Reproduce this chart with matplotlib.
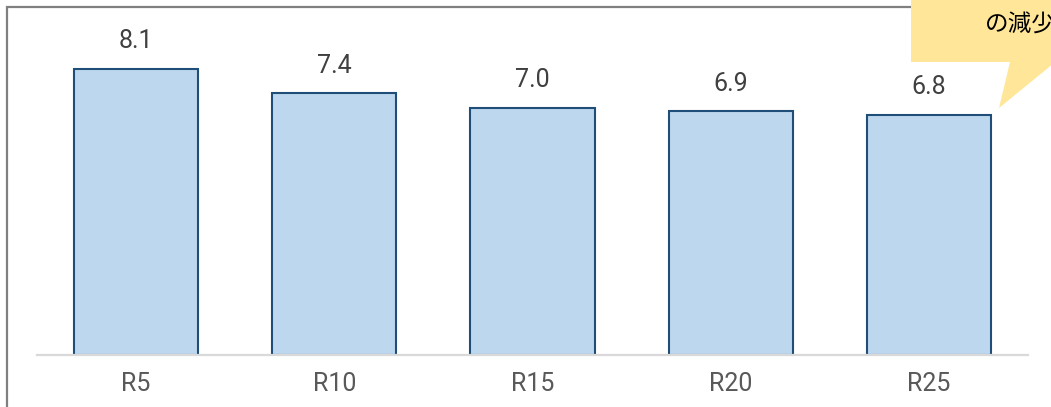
import matplotlib
matplotlib.use('Agg')
from matplotlib import pyplot as plt
from matplotlib.patches import Polygon, Rectangle

# データ
categories = ['R5', 'R10', 'R15', 'R20', 'R25']
values = [8.1, 7.4, 7.0, 6.9, 6.8]
value_labels = ['8.1', '7.4', '7.0', '6.9', '6.8']
callout_text = 'の減少'

W, H = 1051, 407
fig = plt.figure(figsize=(W / 100, H / 100), dpi=100)

label_font = ['Roboto', 'DejaVu Sans']

# 外枠 (左と上の線だけ見える)
fig.patches.append(Rectangle((7 / W, -0.1), 1.2, 1 - 7 / H + 0.1,
                             transform=fig.transFigure, fill=False,
                             edgecolor='#808080', linewidth=1.6))

ax = fig.add_axes([37 / W, (H - 355) / H, (1028 - 37) / W, (355 - 20) / H])
ax.bar(range(len(categories)), values, width=0.626, color='#BDD7EE',
       edgecolor='#1F4E79', linewidth=1.5, zorder=2)
ax.set_xlim(-0.5, len(categories) - 0.5)
ax.set_ylim(0, 9.477)

for i, v in enumerate(values):
    ax.annotate(value_labels[i], (i, v), xytext=(0, 11), textcoords='offset points',
                ha='center', va='bottom', fontsize=18, color='#404040',
                family=label_font)

ax.set_xticks(range(len(categories)))
ax.set_xticklabels(categories, fontsize=18, color='#595959', family=label_font)
ax.tick_params(axis='x', length=0, pad=12)
ax.set_yticks([])
for s in ['top', 'right', 'left']:
    ax.spines[s].set_visible(False)
ax.spines['bottom'].set_color('#D9D9D9')
ax.spines['bottom'].set_linewidth(1.6)
ax.spines['bottom'].set_zorder(3)

# 吹き出し
def fpt(x, y):
    return (x / W, 1 - y / H)

callout = Polygon([fpt(911, -5), fpt(1070, -5), fpt(1070, 50), fpt(999, 108),
                   fpt(1010, 62), fpt(911, 62)],
                  closed=True, transform=fig.transFigure,
                  facecolor='#FFE699', edgecolor='none', zorder=5)
fig.patches.append(callout)
fig.text(985 / W, 1 - 25 / H, callout_text, fontsize=17, color='black',
         ha='left', va='center', family=['Noto Sans CJK JP', 'DejaVu Sans'], zorder=6)

plt.savefig('out.png', dpi=100)
